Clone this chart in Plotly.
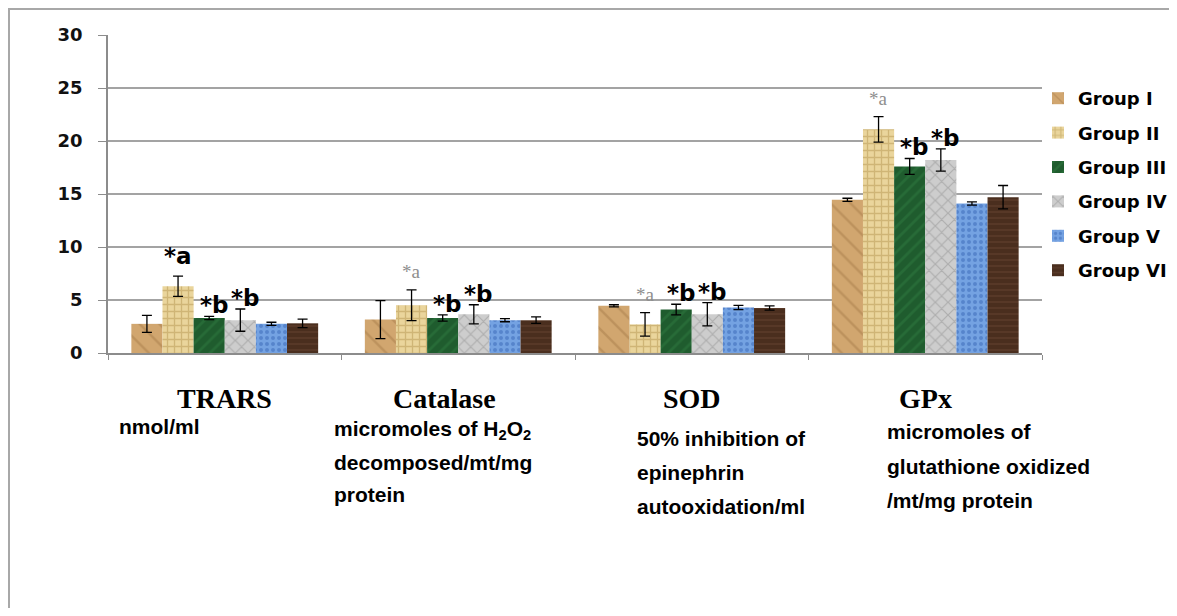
import plotly.graph_objects as go

# ---------------- data ----------------
categories = ["TRARS", "Catalase", "SOD", "GPx"]
groups = ["Group I", "Group II", "Group III", "Group IV", "Group V", "Group VI"]

means = {
    "Group I":   [2.75, 3.15, 4.45, 14.45],
    "Group II":  [6.30, 4.50, 2.70, 21.10],
    "Group III": [3.30, 3.30, 4.10, 17.60],
    "Group IV":  [3.10, 3.65, 3.65, 18.20],
    "Group V":   [2.75, 3.10, 4.30, 14.10],
    "Group VI":  [2.80, 3.10, 4.25, 14.70],
}
errors = {
    "Group I":   [0.80, 1.80, 0.10, 0.15],
    "Group II":  [0.95, 1.45, 1.10, 1.20],
    "Group III": [0.15, 0.30, 0.50, 0.75],
    "Group IV":  [1.05, 0.90, 1.10, 1.05],
    "Group V":   [0.15, 0.15, 0.20, 0.15],
    "Group VI":  [0.40, 0.30, 0.20, 1.10],
}
sig_labels = {
    "Group II":  ["*a", "*a", "*a", "*a"],
    "Group III": ["*b", "*b", "*b", "*b"],
    "Group IV":  ["*b", "*b", "*b", "*b"],
}
a_label_grey = [False, True, True, True]

sub_labels = [
    ["nmol/ml"],
    ["micromoles of H<sub>2</sub>O<sub>2</sub>", "decomposed/mt/mg", "protein"],
    ["50% inhibition of", "epinephrin", "autooxidation/ml"],
    ["micromoles of", "glutathione oxidized", "/mt/mg protein"],
]
y_ticks = [0, 5, 10, 15, 20, 25, 30]

# ---------------- styles ----------------
styles = {
    "Group I":   dict(color="#d1a66f", pat="\\", fg="#a97e4c", size=14, sol=0.18),
    "Group II":  dict(color="#ead59c", pat="+", fg="#b4964f", size=7, sol=0.35),
    "Group III": dict(color="#1f5c2e", pat="/", fg="#2f7a40", size=9, sol=0.3),
    "Group IV":  dict(color="#cdcdcd", pat="x", fg="#8f8f8f", size=9, sol=0.25),
    "Group V":   dict(color="#74a2e2", pat=".", fg="#3766b5", size=6, sol=0.35),
    "Group VI":  dict(color="#4a2e1e", pat="-", fg="#654533", size=6, sol=0.3),
}

# page body has an 8px margin, so the figure is placed at (8, 8)
OFF = 8
W, H = 1177 - 2 * OFF, 616 - 2 * OFF
PL, PR, PT, PB = 108, 1042, 35, 353          # plot area in page pixels
L, T = PL - OFF, PT - OFF
R = W - (PR - OFF)
B = H - (PB - OFF)
plot_w = PR - PL
plot_h = PB - PT


def px_x(px):
    return (px - PL) / plot_w


def px_y(py):
    return (PB - py) / plot_h


fig = go.Figure()
xs = list(range(len(categories)))
for g in groups:
    s = styles[g]
    fig.add_trace(go.Bar(
        name=g, x=xs, y=means[g],
        legendgroup=g,
        marker=dict(color=s["color"], line=dict(width=0),
                    pattern=dict(shape=s["pat"], fgcolor=s["fg"], bgcolor=s["color"],
                                 size=s["size"], solidity=s["sol"])),
        error_y=dict(type="data", array=errors[g], color="black", thickness=1.3, width=5),
    ))

# significance labels
n = len(groups)
slot = 0.8 / n
annotations = []
for g, labs in sig_labels.items():
    gi = groups.index(g)
    off = -0.4 + slot * (gi + 0.5)
    for ci, lab in enumerate(labs):
        top = means[g][ci] + errors[g][ci]
        if lab == "*a" and a_label_grey[ci]:
            font = dict(family="Liberation Serif", size=19, color="#8e8e8e")
            ys = 6
        else:
            font = dict(family="DejaVu Sans", size=23, color="black", weight="bold")
            ys = 5 if lab == "*a" else -4
        annotations.append(dict(
            x=ci + off, y=top, xref="x", yref="y", text=lab, showarrow=False,
            xanchor="center", yanchor="bottom", font=font, yshift=ys,
            xshift=0 if lab == "*a" else 5))

# category titles
title_shift = [0, -14, 0, 0]
for ci, c in enumerate(categories):
    annotations.append(dict(
        x=ci, y=px_y(398), xref="x", yref="paper", text=c, showarrow=False,
        xanchor="center", yanchor="middle", xshift=title_shift[ci],
        font=dict(family="Liberation Serif", size=28, color="black", weight="bold")))

# units text
sub_left = [117, 332, 635, 885]
sub_y0 = [426, 430, 438, 431]
sub_dy = [33, 32, 34, 35]
for ci, lines in enumerate(sub_labels):
    for li, txt in enumerate(lines):
        annotations.append(dict(
            x=px_x(sub_left[ci]), y=px_y(sub_y0[ci] + li * sub_dy[ci]), xref="paper", yref="paper",
            text=txt, showarrow=False, xanchor="left", yanchor="middle",
            font=dict(family="Liberation Sans", size=21, color="black", weight="bold")))

fig.update_layout(
    width=W, height=H,
    margin=dict(l=L, r=R, t=T, b=B, pad=0, autoexpand=False),
    paper_bgcolor="white", plot_bgcolor="white",
    barmode="group", bargap=0.2, bargroupgap=0,
    annotations=annotations,
    showlegend=True,
    legend=dict(x=px_x(1038), xanchor="left", y=px_y(80), yanchor="top",
                font=dict(family="DejaVu Sans", size=18, color="black", weight="bold"),
                tracegroupgap=8, bgcolor="rgba(0,0,0,0)", traceorder="grouped"),
    xaxis=dict(range=[-0.5, 3.5], tickmode="array", tickvals=[-0.5, 0.5, 1.5, 2.5, 3.5],
               showticklabels=False, ticks="outside", ticklen=5, tickcolor="#8c8c8c",
               showline=True, linecolor="#8c8c8c", linewidth=1.5, showgrid=False,
               zeroline=False, fixedrange=True),
    yaxis=dict(range=[0, 30], tickmode="array", tickvals=y_ticks,
               ticks="outside", ticklen=8, tickcolor="#8c8c8c", tickwidth=1.2,
               showline=True, linecolor="#8c8c8c", linewidth=1.5,
               showgrid=True, gridcolor="#a3a3a3", gridwidth=1.5, zeroline=False,
               ticklabelstandoff=12,
               tickfont=dict(family="DejaVu Sans", size=18, color="#111111", weight="bold")),
    shapes=[
        dict(type="line", xref="paper", yref="paper", x0=px_x(8), x1=px_x(1200),
             y0=px_y(9), y1=px_y(9), line=dict(color="#a8a8a8", width=2)),
        dict(type="line", xref="paper", yref="paper", x0=px_x(9), x1=px_x(9),
             y0=px_y(9), y1=px_y(640), line=dict(color="#a8a8a8", width=2)),
    ],
)

fig.write_html("out.html")
